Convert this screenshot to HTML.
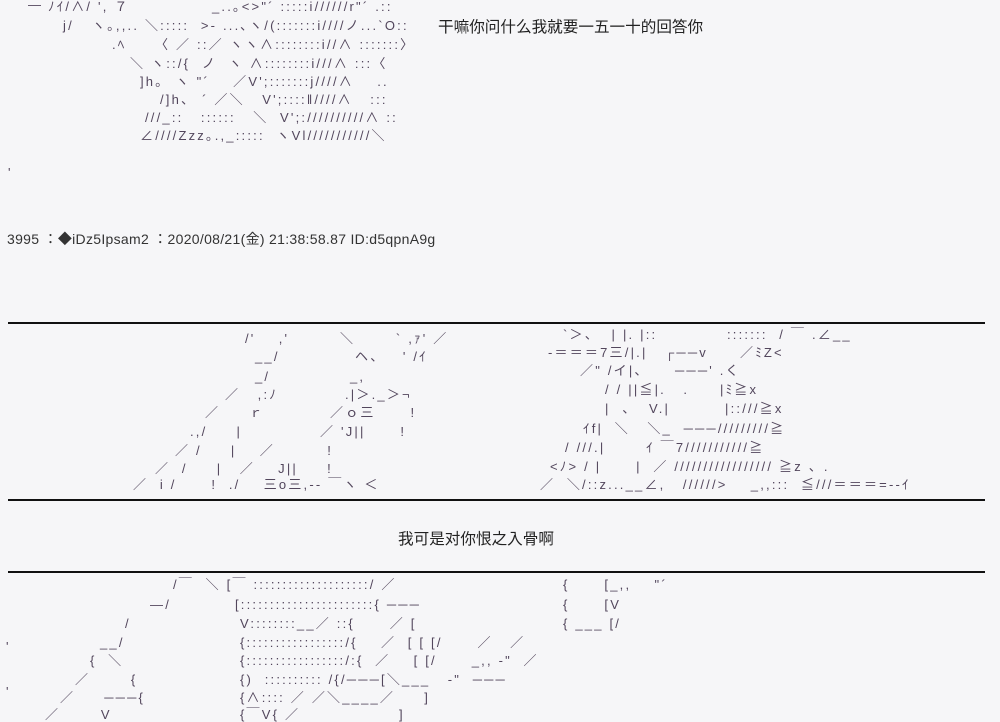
<!DOCTYPE html>
<html><head><meta charset="utf-8">
<style>
html,body{margin:0;padding:0;}
body{width:1000px;height:715px;background:#f6f6f8;position:relative;overflow:hidden;
font-family:"Liberation Sans","Noto Sans CJK JP",sans-serif;color:#52465c;}
.t{position:absolute;white-space:pre;font-size:13px;line-height:14px;letter-spacing:2.2px;}
.c{position:absolute;white-space:pre;font-size:14px;color:#222;}
.r{position:absolute;left:8px;width:977px;background:#111;}
</style></head><body>
<div class="t" style="left:28px;top:-2px">—</div>
<div class="t" style="left:48px;top:0px">ﾉｲ/∧/ ', ７</div>
<div class="t" style="left:212px;top:0px">_..｡&lt;&gt;"´ :::::i//////r"´ .::</div>
<div class="t" style="left:63px;top:19px">j/</div>
<div class="t" style="left:92px;top:19px">ヽ｡,,.. ＼:::::  &gt;‐ ...､ヽ/(:::::::i////ノ...`O::</div>
<div class="t" style="left:112px;top:38px">.ﾍ</div>
<div class="t" style="left:155px;top:38px">〈 ／ ::／ ヽヽ∧::::::::i//∧ :::::::〉</div>
<div class="t" style="left:130px;top:57px">＼ ヽ::/{  ノ  ヽ ∧::::::::i///∧ :::〈</div>
<div class="t" style="left:140px;top:75px">]h｡  ヽ "´    ／V';:::::::j////∧    ..</div>
<div class="t" style="left:160px;top:93px">/]h、 ´ ／＼   V';::::‖////∧   :::</div>
<div class="t" style="left:145px;top:111px">///_::   ::::::   ＼  V';://////////∧ ::</div>
<div class="t" style="left:140px;top:129px">∠////Zzz｡.,_:::::  ヽVl///////////＼</div>
<div class="c" style="left:438px;top:15px;font-size:15.6px">干嘛你问什么我就要一五一十的回答你</div>
<div class="t" style="left:8px;top:166px">'</div>
<div class="c" style="left:7px;top:229px;font-size:14px;letter-spacing:0.3px;color:#333">3995 ：◆iDz5Ipsam2 ：2020/08/21(金) 21:38:58.87 ID:d5qpnA9g</div>

<div class="r" style="top:322px;height:2px"></div>

<div class="t" style="left:245px;top:332px">/'    ,'</div>
<div class="t" style="left:340px;top:332px">＼       ` ,ｧ' ／</div>
<div class="t" style="left:255px;top:350px">__/</div>
<div class="t" style="left:355px;top:350px">ヘ、   ' /ｲ</div>
<div class="t" style="left:255px;top:370px">_/</div>
<div class="t" style="left:350px;top:370px">_,</div>
<div class="t" style="left:225px;top:388px">／   ,:ﾉ</div>
<div class="t" style="left:345px;top:388px">.|＞._＞¬</div>
<div class="t" style="left:205px;top:406px">／     ｒ</div>
<div class="t" style="left:330px;top:406px">／ｏ三      !</div>
<div class="t" style="left:190px;top:425px">.,/     |</div>
<div class="t" style="left:320px;top:425px">／ 'J||      !</div>
<div class="t" style="left:175px;top:444px">／ /     |    ／         !</div>
<div class="t" style="left:155px;top:462px">／  /     |   ／    J||     !</div>
<div class="t" style="left:133px;top:478px">／  i /      !  ./    三o三,‐‐ ￣ヽ ＜</div>

<div class="t" style="left:563px;top:328px">`＞、  | |. |::</div>
<div class="t" style="left:727px;top:328px">:::::::  / ￣ .∠__</div>
<div class="t" style="left:548px;top:346px">-＝＝＝7三/|.|</div>
<div class="t" style="left:665px;top:346px">┌──v</div>
<div class="t" style="left:740px;top:346px">／ﾐZ&lt;</div>
<div class="t" style="left:580px;top:364px">／" /イ|、</div>
<div class="t" style="left:675px;top:364px">───' .く</div>
<div class="t" style="left:605px;top:383px">/ / ||≦|.   .</div>
<div class="t" style="left:720px;top:383px">|ﾐ≧x</div>
<div class="t" style="left:605px;top:402px">|  、  V.|</div>
<div class="t" style="left:725px;top:402px">|::///≧x</div>
<div class="t" style="left:583px;top:422px">ｲf|  ＼   ＼_  ───/////////≧</div>
<div class="t" style="left:565px;top:441px">/ ///.|       ｲ ￣7///////////≧</div>
<div class="t" style="left:550px;top:460px">&lt;ﾉ&gt; / |      |  ／ ///////////////// ≧z 、.</div>
<div class="t" style="left:540px;top:478px">／  ＼/::z...__∠,   //////&gt;    _,,:::  ≦///＝＝＝=‐‐ｲ</div>

<div class="r" style="top:499px;height:1.5px"></div>
<div class="c" style="left:398px;top:527px;font-size:15.6px">我可是对你恨之入骨啊</div>
<div class="r" style="top:571px;height:2px"></div>

<div class="t" style="left:173px;top:578px">/￣  ＼ [￣ ::::::::::::::::::::/ ／</div>
<div class="t" style="left:563px;top:578px">{      [_,,    "´</div>
<div class="t" style="left:150px;top:598px">—/</div>
<div class="t" style="left:235px;top:598px">[:::::::::::::::::::::::{ ───</div>
<div class="t" style="left:563px;top:598px">{      [V</div>
<div class="t" style="left:125px;top:617px">/</div>
<div class="t" style="left:240px;top:617px">V::::::::__／ ::{      ／ [</div>
<div class="t" style="left:563px;top:617px">{ ___ [/</div>
<div class="t" style="left:100px;top:636px">__/</div>
<div class="t" style="left:240px;top:636px">{:::::::::::::::::/{    ／  [ [ [/      ／   ／</div>
<div class="t" style="left:90px;top:654px">{  ＼</div>
<div class="t" style="left:240px;top:654px">{:::::::::::::::::/:{  ／    [ [/      _,, -"  ／</div>
<div class="t" style="left:75px;top:673px">／       {</div>
<div class="t" style="left:240px;top:673px">{)  :::::::::: /{/───[＼___   -"  ───</div>
<div class="t" style="left:60px;top:691px">／     ───{</div>
<div class="t" style="left:240px;top:691px">{∧:::: ／ ／＼____／     ]</div>
<div class="t" style="left:45px;top:708px">／       V</div>
<div class="t" style="left:240px;top:708px">{￣V{ ／                 ]</div>
<div class="t" style="left:6px;top:640px">'</div>
<div class="t" style="left:6px;top:685px">'</div>
</body></html>
